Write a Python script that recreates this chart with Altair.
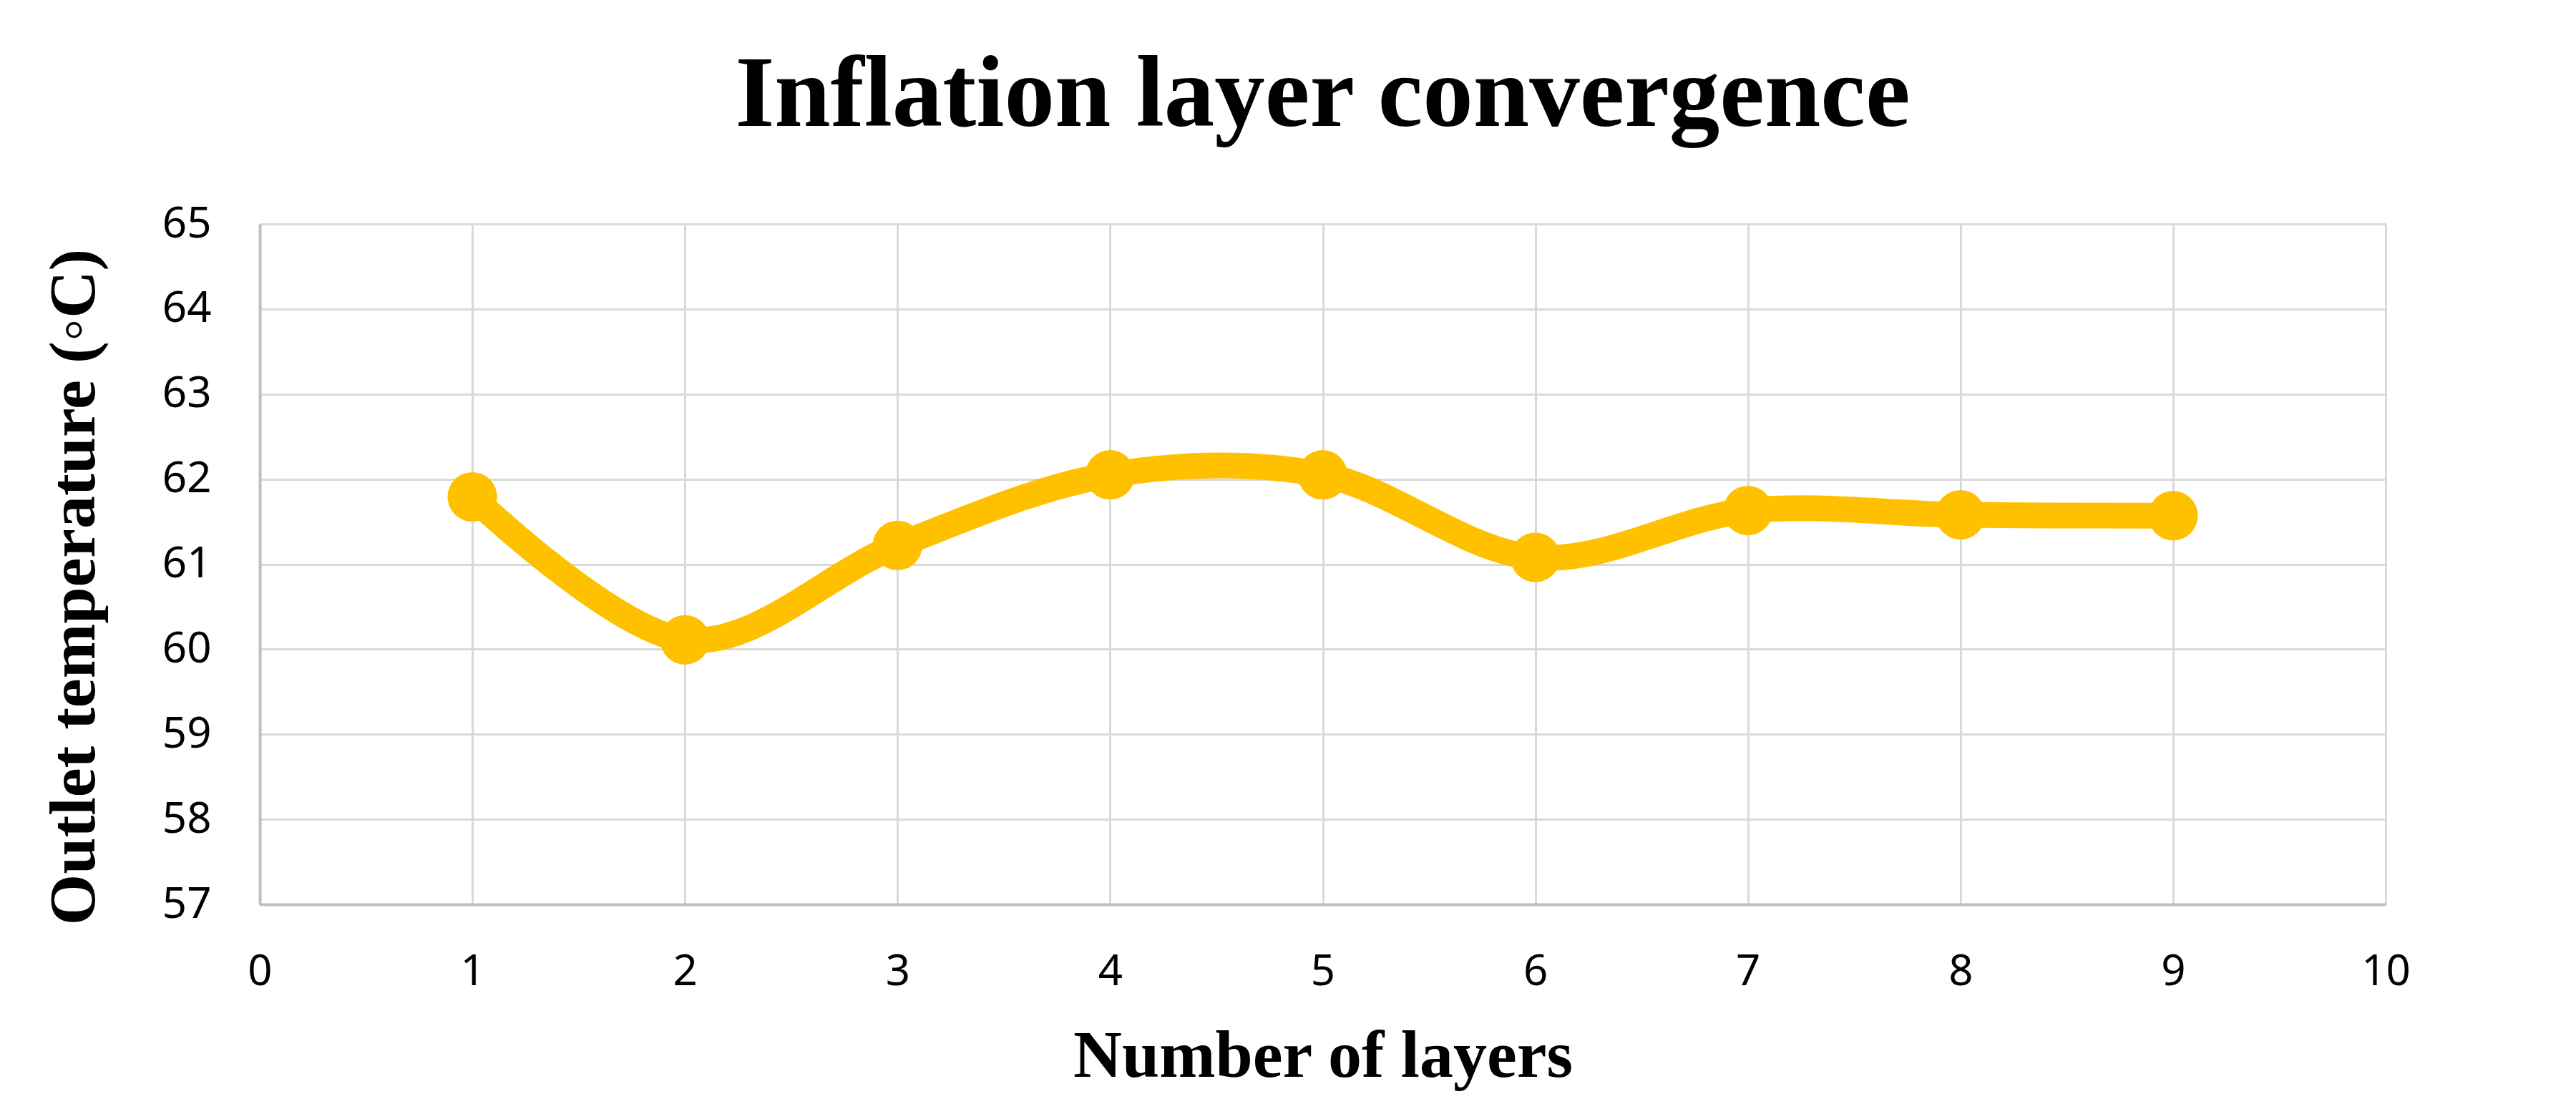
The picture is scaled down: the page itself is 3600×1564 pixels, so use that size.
import altair as alt
import pandas as pd

layers = [1, 2, 3, 4, 5, 6, 7, 8, 9]
temps = [61.79, 60.11, 61.22, 62.05, 62.05, 61.08, 61.63, 61.58, 61.57]

df = pd.DataFrame({"layers": layers, "temp": temps})

W, H = 2971, 951

x = alt.X("layers:Q",
          scale=alt.Scale(domain=[0, 10], nice=False, zero=False),
          axis=alt.Axis(values=list(range(0, 11)), title="Number of layers",
                        titleFont="Liberation Serif", titleFontWeight="bold", titleFontSize=94,
                        titleColor="#000000", titleX=W / 2, titleY=212, titleBaseline="middle",
                        labelFont="Noto Sans", labelFontSize=60, labelColor="#000000",
                        labelPadding=65, labelFlush=False, tickSize=0,
                        domainColor="#BFBFBF", domainWidth=4,
                        gridColor="#D9D9D9", gridWidth=3))
y = alt.Y("temp:Q",
          scale=alt.Scale(domain=[57, 65], nice=False, zero=False),
          axis=alt.Axis(values=list(range(57, 66)), title="Outlet temperature (◦C)",
                        titleFont="Liberation Serif", titleFontWeight="bold", titleFontSize=92,
                        titleColor="#000000", titleX=-260, titleY=507, titleBaseline="middle",
                        titleAngle=270,
                        labelFont="Noto Sans", labelFontSize=60, labelColor="#000000",
                        labelPadding=68, labelFlush=False, tickSize=0,
                        domainColor="#BFBFBF", domainWidth=4,
                        gridColor="#D9D9D9", gridWidth=3))

line = alt.Chart(df).mark_line(color="#FFC000", strokeWidth=36, interpolate="cardinal").encode(x=x, y=y)
pts = alt.Chart(df).mark_circle(color="#FFC000", opacity=1, size=4800).encode(x=x, y=y)

chart = (line + pts).properties(
    width=W, height=H,
    title=alt.TitleParams("Inflation layer convergence", font="Liberation Serif", fontWeight="bold",
                          fontSize=141, color="#000000", anchor="middle", offset=77),
    autosize=alt.AutoSizeParams(type="none"),
    padding={"left": 355, "top": 305, "right": 258, "bottom": 292},
).configure_view(stroke="#D9D9D9", strokeWidth=3).configure(background="white")

chart.save("out.html", embed_options={"renderer": "svg", "actions": False})
